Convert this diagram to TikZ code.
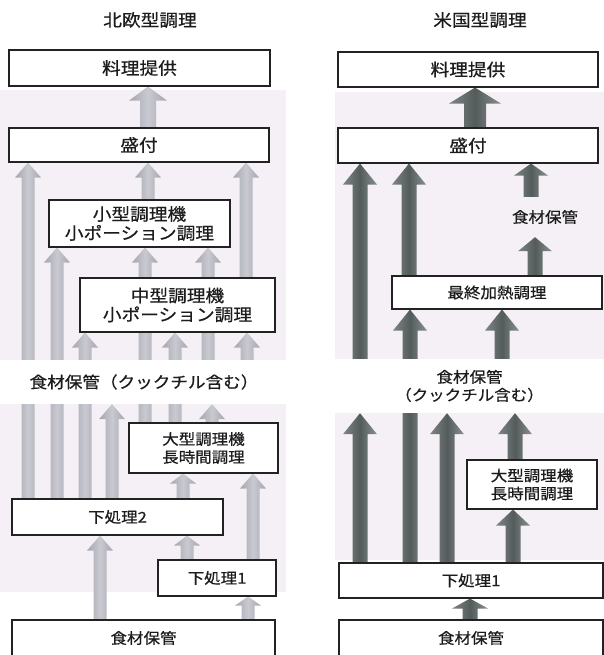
\documentclass[tikz,border=0pt]{standalone}
\usepackage{fontspec}
\newfontfamily\jp[FakeStretch=1.1, FakeBold=0.6]{Noto Sans CJK JP}
\usetikzlibrary{calc}
\pgfdeclarelayer{bg}
\pgfdeclarelayer{arr}
\pgfsetlayers{bg,arr,main}
\definecolor{lgA}{HTML}{A6A6B0}
\definecolor{lgB}{HTML}{C9C9D1}
\definecolor{dgA}{HTML}{7E8686}
\definecolor{dgB}{HTML}{535B5B}
\definecolor{dgC}{HTML}{899191}
\definecolor{boxc}{HTML}{222222}
\definecolor{txt}{HTML}{1C1C1C}
\definecolor{panelc}{HTML}{F5F0F5}
\tikzset{
  blkhl/.store in=\blkhl, blkhw/.store in=\blkhw, blksw/.store in=\blksw,
  blkhl=15pt, blkhw=13pt, blksw=6.5pt,
  larrow/.style={left color=lgA, right color=lgA, middle color=lgB, blkhl=15pt, blkhw=13pt, blksw=6.5pt},
  rarrow/.style={left color=dgA, right color=dgC, middle color=dgB, blkhl=21pt, blkhw=17pt, blksw=7.5pt},
  bigf/.style={font=\jp\fontsize{17}{19}\selectfont},
  medf/.style={font=\jp\fontsize{16}{18}\selectfont},
  smallf/.style={font=\jp\fontsize{15}{18}\selectfont},
  box/.style={draw=boxc, line width=1.1pt, fill=white, inner sep=0pt, align=center, text=txt},
  band/.style={fill=white, inner sep=0pt, align=center, text=txt},
  plain/.style={inner sep=0pt, align=center, text=txt},
}
\newcommand\blk[4][]{%
  \begin{pgfonlayer}{arr}
  \shade[#1] let \p1=(#2,0|-#3.north), \p2=(#2,0|-#4.south) in
    (\x1-\blksw,\y1) -- (\x1-\blksw,\y2-\blkhl) -- (\x1-\blkhw,\y2-\blkhl) -- (\x1,\y2)
    -- (\x1+\blkhw,\y2-\blkhl) -- (\x1+\blksw,\y2-\blkhl) -- (\x1+\blksw,\y1) -- cycle;
  \end{pgfonlayer}}
\begin{document}
\begin{tikzpicture}[x=1pt,y=1pt]
\useasboundingbox (0,0) rectangle (604,-655);
\clip (0,0) rectangle (604,-655);
\begin{pgfonlayer}{bg}
  \fill[white] (0,0) rectangle (604,-655);
  \fill[panelc] (0,-90) rectangle (286,-592);
  \fill[panelc] (335,-92) rectangle (604,-560);
\end{pgfonlayer}

% titles
\node[plain, bigf] (ltitle) at (150,-20) {北欧型調理};
\node[plain, bigf] (rtitle) at (480,-20) {米国型調理};

% left column
\node[box, bigf, minimum width=261pt, minimum height=36pt] (lserve) at (139.5,-68) {料理提供};
\node[box, bigf, minimum width=260pt, minimum height=34pt] (lmori) at (139,-145) {盛付};
\node[box, bigf, minimum width=181pt, minimum height=47pt] (lsmall) at (139.5,-223.5) {小型調理機\\小ポーション調理};
\node[box, bigf, minimum width=195pt, minimum height=54pt] (lmid) at (177.5,-305) {中型調理機\\小ポーション調理};
\node[band, medf, minimum width=288pt, minimum height=44pt] (lkc) at (144,-382) {食材保管（クックチル含む）};
\node[box, smallf, minimum width=149pt, minimum height=50pt] (llarge) at (203.5,-448) {大型調理機\\長時間調理};
\node[box, smallf, minimum width=211pt, minimum height=36pt] (lpre2) at (117.5,-517) {下処理2};
\node[box, smallf, minimum width=118pt, minimum height=36pt] (lpre1) at (217,-578) {下処理1};
\node[box, smallf, minimum width=263pt, minimum height=36pt] (lstore) at (143.5,-638) {食材保管};

% right column
\node[box, bigf, minimum width=260pt, minimum height=35pt] (rserve) at (468,-69.5) {料理提供};
\node[box, bigf, minimum width=260pt, minimum height=35pt] (rmori) at (468,-145.5) {盛付};
\node[plain, smallf, minimum height=40pt] (rstore2) at (545,-217) {食材保管};
\node[box, smallf, minimum width=210pt, minimum height=33pt] (rfinal) at (497,-292.5) {最終加熱調理};
\node[band, smallf, minimum width=269pt, minimum height=54pt] (rkc) at (469.5,-386) {食材保管\\（クックチル含む）};
\node[box, smallf, minimum width=130pt, minimum height=49pt] (rlarge) at (532,-484.5) {大型調理機\\長時間調理};
\node[box, smallf, minimum width=264pt, minimum height=35pt] (rpre1) at (471,-580.5) {下処理1};
\node[box, smallf, minimum width=264pt, minimum height=36pt] (rstore) at (471,-638) {食材保管};

% left arrows
\blk[larrow, blksw=8pt, blkhw=19pt, blkhl=14pt]{148}{lmori}{lserve}
\blk[larrow]{28}{lpre2}{lmori}
\blk[larrow]{57}{lpre2}{lsmall}
\blk[larrow]{148}{lsmall}{lmori}
\blk[larrow]{246}{lmid}{lmori}
\blk[larrow]{145}{llarge}{lsmall}
\blk[larrow]{208}{lkc}{lsmall}
\blk[larrow]{175}{llarge}{lmid}
\blk[larrow]{85}{lpre2}{lmid}
\blk[larrow]{247}{lkc}{lmid}
\blk[larrow]{112}{lpre2}{lkc}
\blk[larrow]{212}{llarge}{lkc}
\blk[larrow, blkhl=10pt]{183}{lpre2}{llarge}
\blk[larrow, blkhl=10pt]{187}{lpre1}{lpre2}
\blk[larrow]{253}{lpre1}{llarge}
\blk[larrow]{100}{lstore}{lpre2}
\blk[larrow, blkhl=9pt]{248}{lstore}{lpre1}

% right arrows
\blk[rarrow, blksw=11pt, blkhw=26pt, blkhl=16pt]{475}{rmori}{rserve}
\blk[rarrow]{360}{rkc}{rmori}
\blk[rarrow]{409}{rfinal}{rmori}
\blk[rarrow, blkhl=12pt]{531}{rstore2}{rmori}
\blk[rarrow, blkhl=14pt]{535}{rfinal}{rstore2}
\blk[rarrow]{410}{rpre1}{rfinal}
\blk[rarrow]{502}{rkc}{rfinal}
\blk[rarrow]{360}{rpre1}{rkc}
\blk[rarrow]{447}{rpre1}{rkc}
\blk[rarrow]{515}{rlarge}{rkc}
\blk[rarrow, blkhl=16pt]{513}{rpre1}{rlarge}
\blk[rarrow, blkhl=10pt, blkhw=18pt]{470}{rstore}{rpre1}
\end{tikzpicture}
\end{document}
